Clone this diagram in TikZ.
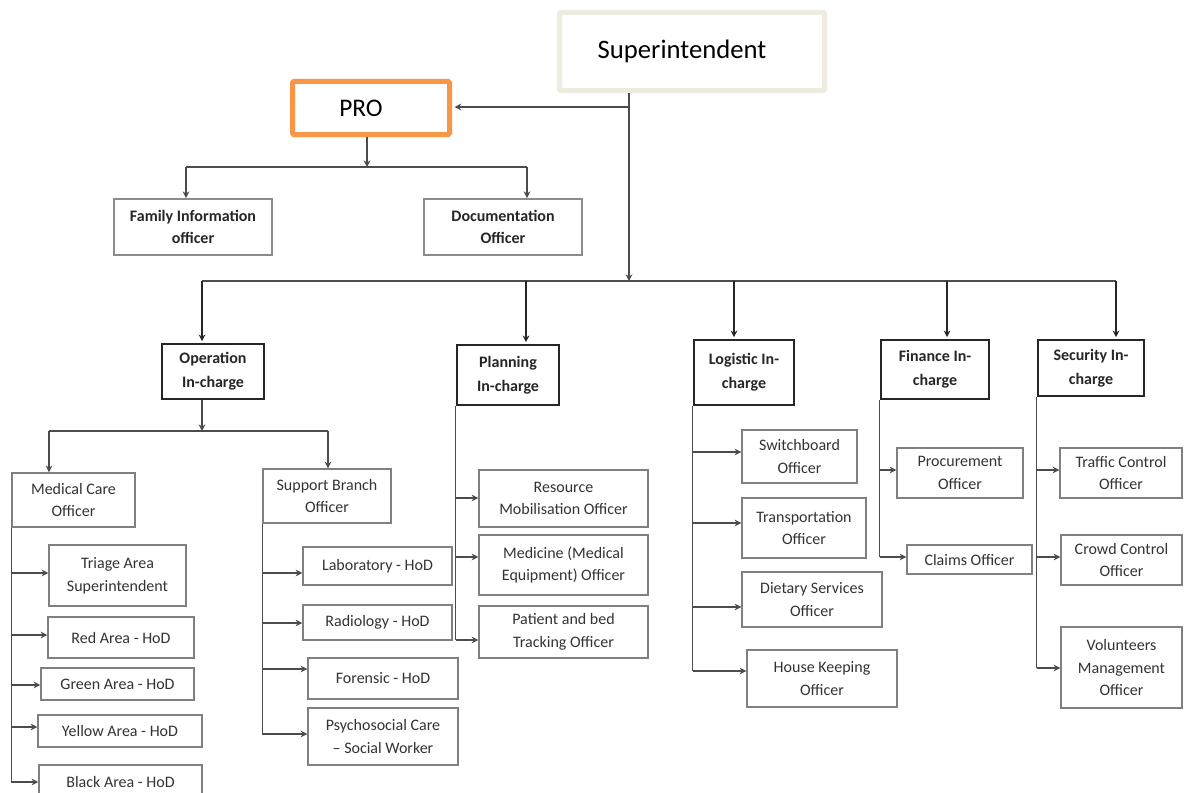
\documentclass[tikz,border=0pt]{standalone}
\usepackage{fontspec}
\setmainfont{Carlito}
\usetikzlibrary{arrows.meta}
\definecolor{beige}{HTML}{EEECE1}
\definecolor{orng}{HTML}{F79646}
\newcommand\brline[2]{\draw[ln] (#1.south west) -- (#1.south west |- 0,#2);}
\newcommand\brarr[3]{\draw[ln,tip] (#1.south west |- 0,#3) -- (#2.west |- 0,#3);}
\newcommand\boxat[6]{\node[#1, minimum width={(#5-#3)*0.75pt}, minimum height={(#6-#4)*0.75pt}, anchor=center] (#2) at ({(#3+#5)/2},{(#4+#6)/2})}
\begin{document}
\begin{tikzpicture}[x=0.75pt,y=-0.75pt,
  bx/.style={draw=black!50, line width=1.1pt, inner sep=0pt, align=center, font=\fontsize{12}{17}\selectfont, text=black!80},
  hd/.style={draw=black!85, line width=2.2pt, inner sep=0pt, align=center, font=\fontsize{12}{18}\selectfont\bfseries, text=black!85},
  sb/.style={draw=black!45, line width=1.4pt, inner sep=0pt, align=center, font=\fontsize{12}{17}\selectfont\bfseries, text=black!85},
  top/.style={line width=3.75pt, rounded corners=1pt, inner sep=0pt},
  ln/.style={draw=black!70, line width=1.1pt},
  tk/.style={draw=black!85, line width=2pt},
  tip/.style={-{Stealth[length=5pt,width=5pt]}}
]
\useasboundingbox (0,0) rectangle (1184,792);
\clip (0,0) rectangle (1184,792);
\fill[white] (0,0) rectangle (1184,792);

% top level
\boxat{top,draw=beige,font=\fontsize{20}{24}\selectfont}{sup}{559.5}{12.5}{824.5}{90.5} {\raisebox{2pt}{Superintendent}\hspace*{15pt}};
\boxat{top,draw=orng,font=\fontsize{19}{24}\selectfont}{pro}{292.5}{81.5}{449.5}{134.5} {PRO\hspace*{15pt}};

\boxat{sb}{fam}{114}{199}{272}{255} {Family Information\\officer};
\boxat{sb}{doc}{424}{199}{582}{255} {Documentation\\Officer};

% in-charge boxes
\boxat{hd}{op}{162}{344}{264}{399} {Operation\\In-charge};
\boxat{hd}{plan}{457}{345}{559}{405} {Planning\\In-charge};
\boxat{hd}{log}{694}{340}{794}{405} {Logistic In-\\charge};
\boxat{hd}{fin}{881}{340}{989}{399} {Finance In-\\charge};
\boxat{hd}{sec}{1038}{340}{1144}{396} {Security In-\\charge};

% operation subtree
\boxat{bx}{med}{12}{473}{135}{527} {Medical Care\\Officer};
\boxat{bx}{supb}{263}{469}{391}{523} {Support Branch\\Officer};
\boxat{bx}{tri}{49}{545}{186}{606} {Triage Area\\Superintendent};
\boxat{bx}{red}{48}{617}{194}{658} {Red Area - HoD};
\boxat{bx}{grn}{41}{668}{194}{700} {Green Area - HoD};
\boxat{bx}{yel}{38}{715}{202}{747} {Yellow Area - HoD};
\boxat{bx}{blk}{39}{765}{202}{799} {Black Area - HoD};
\boxat{bx}{lab}{303}{547}{452}{585} {Laboratory - HoD};
\boxat{bx}{rad}{303}{605}{452}{640} {Radiology - HoD};
\boxat{bx}{for}{308}{658}{458}{699} {Forensic - HoD};
\boxat{bx}{psy}{308}{708}{458}{765} {Psychosocial Care\\– Social Worker};

% planning subtree
\boxat{bx}{res}{479}{470}{648}{527} {Resource\\Mobilisation Officer};
\boxat{bx}{medi}{479}{535}{648}{595} {Medicine (Medical\\Equipment) Officer};
\boxat{bx}{pat}{479}{606}{648}{658} {Patient and bed\\Tracking Officer};

% logistic subtree
\boxat{bx}{sw}{742}{430}{857}{483} {Switchboard\\Officer};
\boxat{bx}{tr}{742}{498}{866}{558} {Transportation\\Officer};
\boxat{bx}{di}{742}{572}{882}{627} {Dietary Services\\Officer};
\boxat{bx}{ho}{747}{650}{897}{707} {House Keeping\\Officer};

% finance subtree
\boxat{bx}{proc}{897}{448}{1023}{498} {Procurement\\Officer};
\boxat{bx}{clm}{907}{545}{1032}{574} {Claims Officer};

% security subtree
\boxat{bx}{trf}{1060}{448}{1182}{498} {Traffic Control\\Officer};
\boxat{bx}{crd}{1061}{535}{1182}{585} {Crowd Control\\Officer};
\boxat{bx}{vol}{1061}{627}{1182}{708} {Volunteers\\Management\\Officer};

% connectors: top
\coordinate (sj) at (629,281);
\coordinate (pj) at (628,107);
\draw[ln,tip] (sup.south -| sj) -- (sj);
\draw[ln,tip,shorten >=1.9pt] (pj) -- (pro.east |- pj);
\coordinate (pb) at (367,167);
\draw[ln,tip] (pro.south -| pb) -- (pb);
\draw[ln] (186,167) -- (527,167);
\draw[ln,tip] (186,167) -- (fam.north -| 186,0);
\draw[ln,tip] (527,167) -- (doc.north -| 527,0);

% main bus
\draw[ln] (202,281) -- (1116,281);
\foreach \n/\x in {op/202, plan/526, log/734, fin/947, sec/1116}
  \draw[tk,tip,shorten >=1pt] (\x,281) -- (\n.north -| \x,0);

% operation split
\coordinate (ob) at (202,431);
\draw[ln,tip] (op.south -| ob) -- (ob);
\draw[ln] (49,431) -- (328,431);
\draw[ln,tip] (49,431) -- (med.north -| 49,0);
\draw[ln,tip] (328,431) -- (supb.north -| 328,0);

% branches
\brline{med}{782}
\brarr{med}{tri}{573}
\brarr{med}{red}{635}
\brarr{med}{grn}{685}
\brarr{med}{yel}{727}
\brarr{med}{blk}{782}

\brline{supb}{734}
\brarr{supb}{lab}{573}
\brarr{supb}{rad}{623}
\brarr{supb}{for}{669}
\brarr{supb}{psy}{734}

\brline{plan}{640}
\brarr{plan}{res}{498}
\brarr{plan}{medi}{557}
\brarr{plan}{pat}{640}

\brline{log}{671}
\brarr{log}{sw}{452}
\brarr{log}{tr}{523}
\brarr{log}{di}{607}
\brarr{log}{ho}{671}

\brline{fin}{557}
\brarr{fin}{proc}{470}
\brarr{fin}{clm}{557}

\brline{sec}{668}
\brarr{sec}{trf}{470}
\brarr{sec}{crd}{557}
\brarr{sec}{vol}{668}
\end{tikzpicture}
\end{document}
